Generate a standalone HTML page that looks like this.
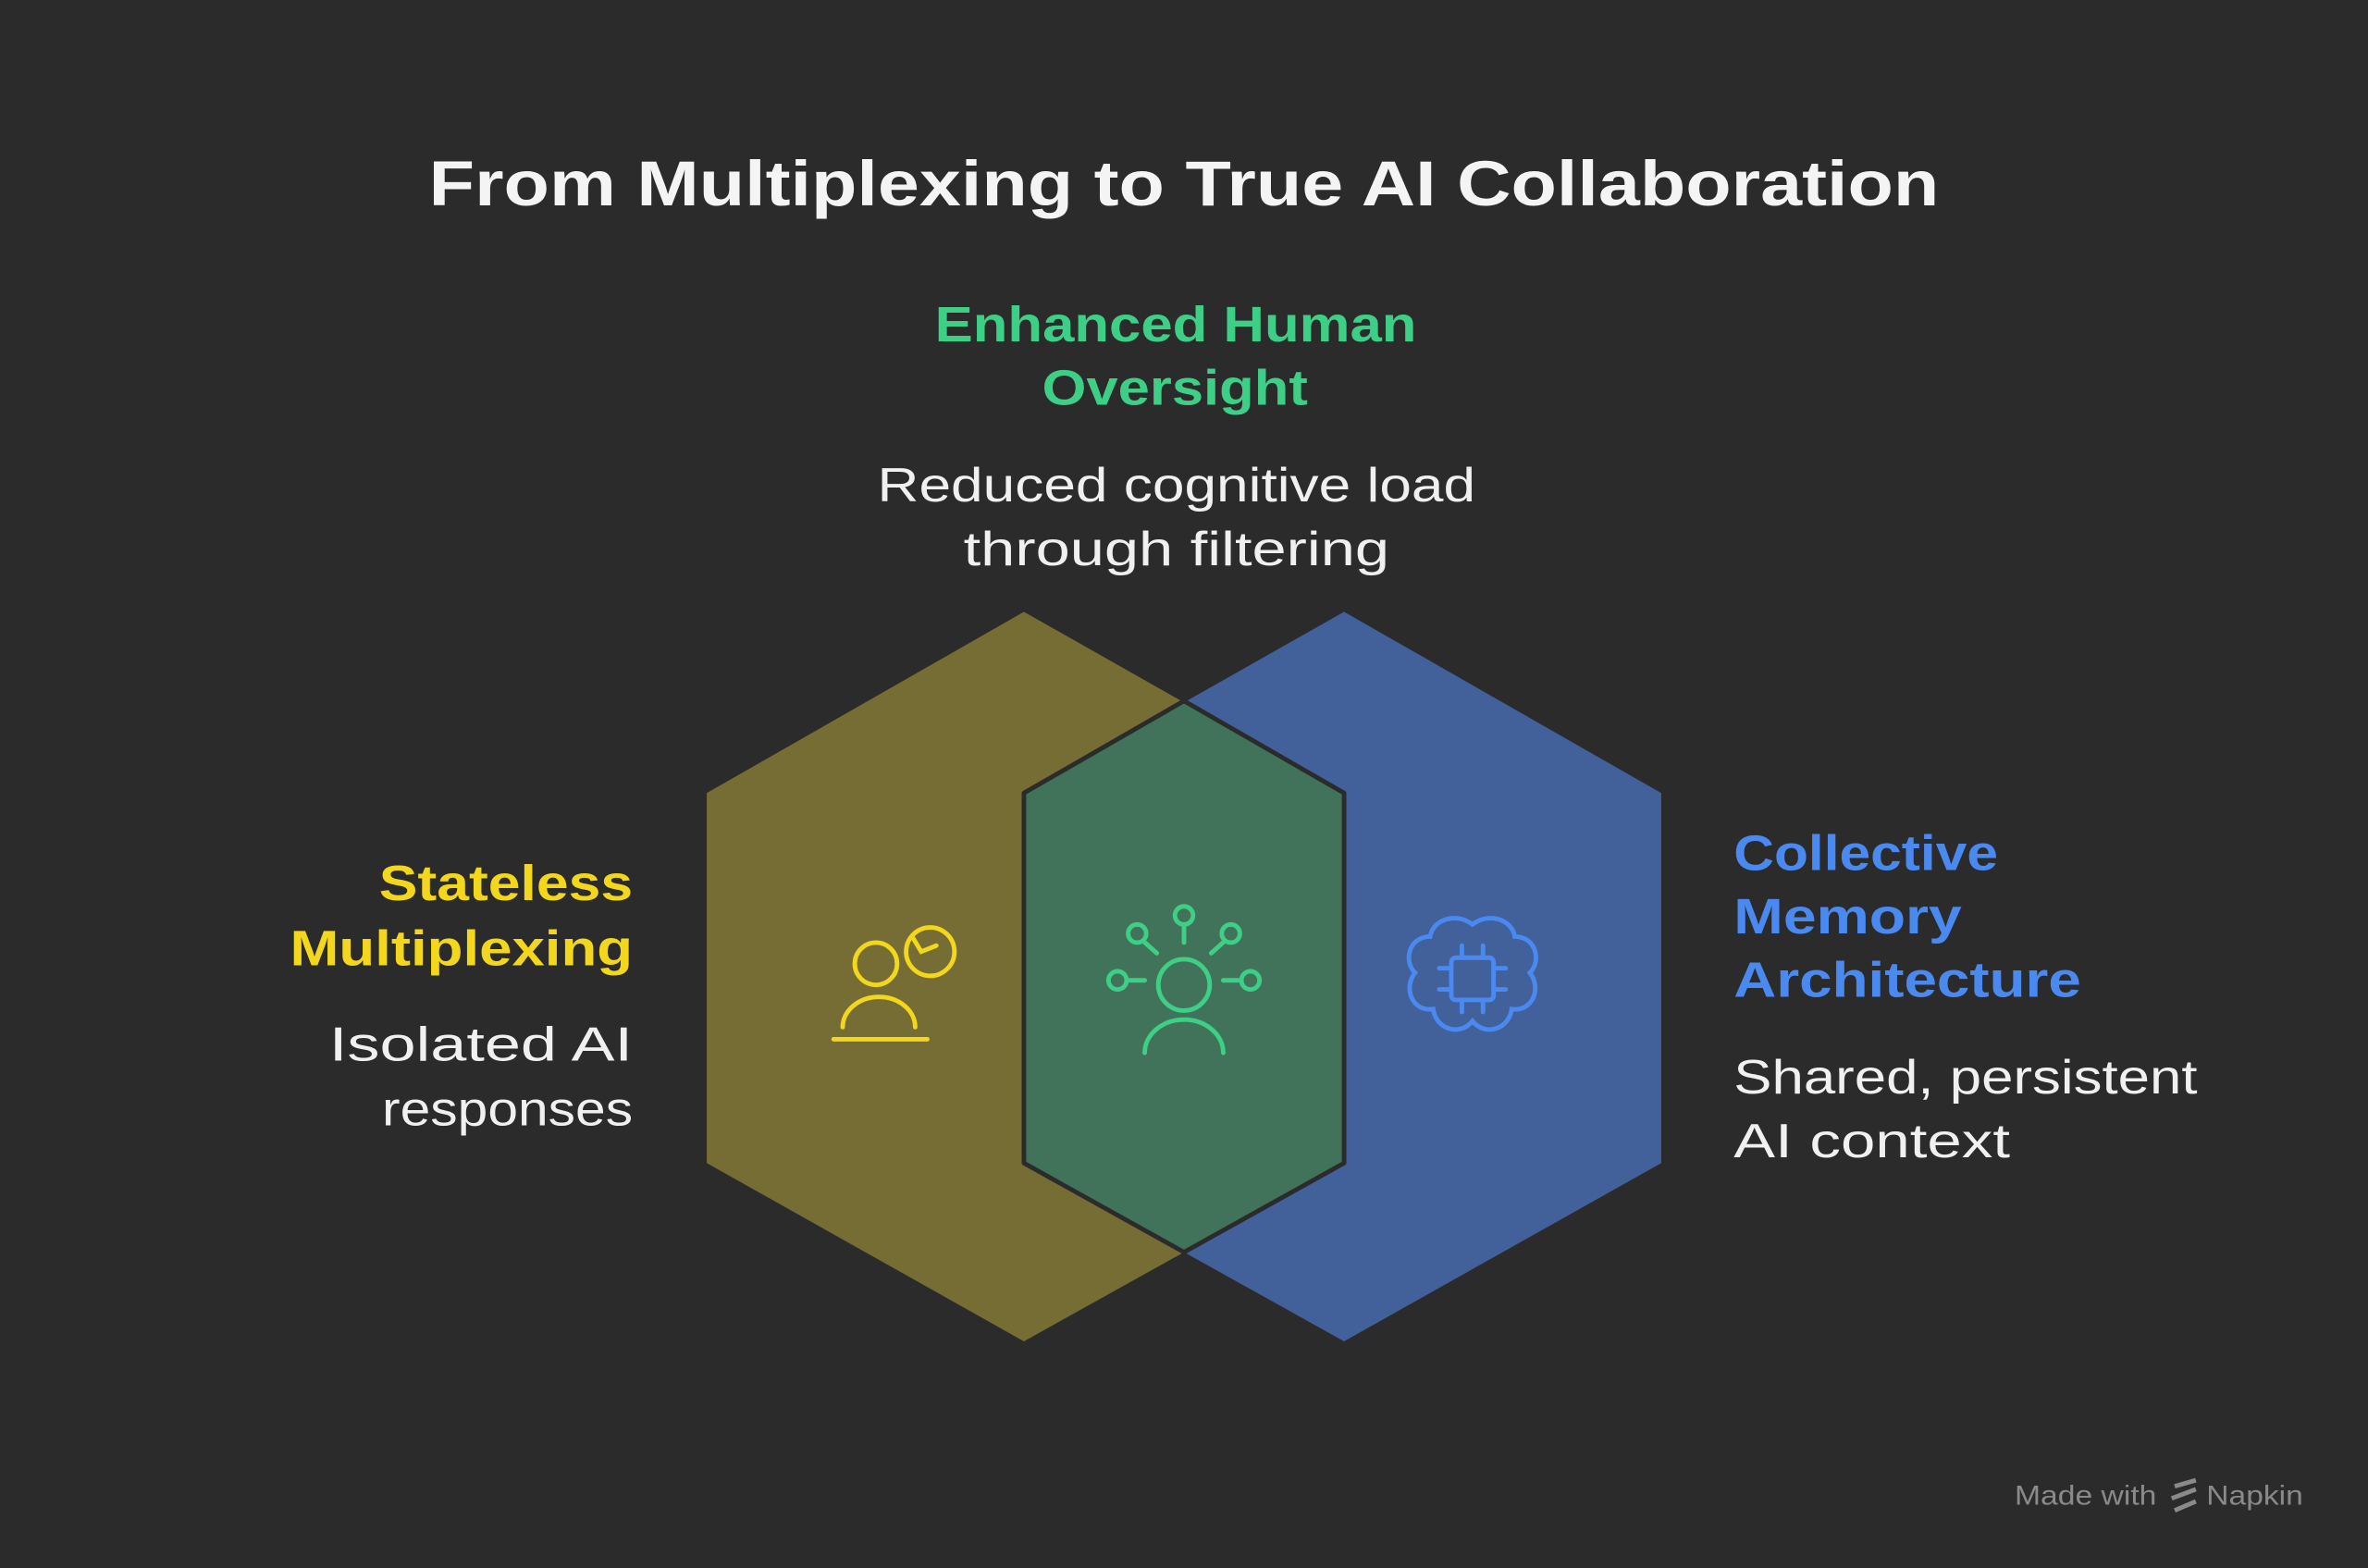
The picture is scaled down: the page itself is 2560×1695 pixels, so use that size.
<!DOCTYPE html>
<html><head><meta charset="utf-8"><style>
html,body{margin:0;padding:0;background:#2b2b2b;}
svg{display:block;}
text{font-family:"Liberation Sans",sans-serif;}
</style></head><body>
<svg width="2560" height="1695" viewBox="0 0 1568 1038" xmlns="http://www.w3.org/2000/svg">
<rect width="1568" height="1038" fill="#2b2b2b"/>
<text x="284" y="136" font-size="42" font-weight="bold" fill="#f4f4f4" textLength="1000" lengthAdjust="spacingAndGlyphs">From Multiplexing to True AI Collaboration</text>

<text x="619" y="226" font-size="33" font-weight="bold" fill="#3ecf86" textLength="319" lengthAdjust="spacingAndGlyphs">Enhanced Human</text>
<text x="690" y="268" font-size="33" font-weight="bold" fill="#3ecf86" textLength="176" lengthAdjust="spacingAndGlyphs">Oversight</text>
<text x="581" y="332" font-size="32" fill="#f0f0f0" textLength="396" lengthAdjust="spacingAndGlyphs">Reduced cognitive load</text>
<text x="638" y="374" font-size="32" fill="#f0f0f0" textLength="282" lengthAdjust="spacingAndGlyphs">through filtering</text>

<text x="251" y="596" font-size="33" font-weight="bold" fill="#f2d71c" textLength="168" lengthAdjust="spacingAndGlyphs">Stateless</text>
<text x="192" y="639" font-size="33" font-weight="bold" fill="#f2d71c" textLength="227" lengthAdjust="spacingAndGlyphs">Multiplexing</text>
<text x="218" y="702" font-size="32" fill="#f0f0f0" textLength="201" lengthAdjust="spacingAndGlyphs">Isolated AI</text>
<text x="253" y="745" font-size="32" fill="#f0f0f0" textLength="166" lengthAdjust="spacingAndGlyphs">responses</text>

<text x="1148" y="576" font-size="33" font-weight="bold" fill="#4a8af0" textLength="175" lengthAdjust="spacingAndGlyphs">Collective</text>
<text x="1148" y="618" font-size="33" font-weight="bold" fill="#4a8af0" textLength="151" lengthAdjust="spacingAndGlyphs">Memory</text>
<text x="1148" y="660" font-size="33" font-weight="bold" fill="#4a8af0" textLength="230" lengthAdjust="spacingAndGlyphs">Architecture</text>
<text x="1148" y="724" font-size="32" fill="#f0f0f0" textLength="307" lengthAdjust="spacingAndGlyphs">Shared, persistent</text>
<text x="1148" y="766" font-size="32" fill="#f0f0f0" textLength="183" lengthAdjust="spacingAndGlyphs">AI context</text>

<polygon points="678,405 890,525 890,770 678,888 468,770 468,525" fill="#756d33"/>
<polygon points="890,405 1100,525 1100,770 890,888 678,770 678,525" fill="#42619a"/>
<polygon points="784,464 890,525 890,770 784,829 678,770 678,525" fill="#41735a" stroke="#2b2b2b" stroke-width="3" stroke-linejoin="round"/>

<g fill="none" stroke="#f2d71c" stroke-width="3" stroke-linecap="round">
<circle cx="580" cy="638" r="14"/>
<path d="M558,680 a24,20 0 0 1 48,0"/>
<line x1="552" y1="688" x2="614" y2="688"/>
<circle cx="616" cy="630" r="16"/>
<path d="M604,620 l6,10 l10,-4"/>
</g>
<g fill="none" stroke="#3ecf86" stroke-width="3" stroke-linecap="round">
<circle cx="784" cy="652" r="17"/>
<path d="M758,697 a26,22 0 0 1 52,0"/>
<circle cx="784" cy="606" r="6"/><line x1="784" y1="612" x2="784" y2="624"/>
<circle cx="753" cy="618" r="6"/><line x1="757" y1="623" x2="766" y2="631"/>
<circle cx="815" cy="618" r="6"/><line x1="811" y1="623" x2="802" y2="631"/>
<circle cx="740" cy="649" r="6"/><line x1="746" y1="649" x2="758" y2="649"/>
<circle cx="828" cy="649" r="6"/><line x1="822" y1="649" x2="810" y2="649"/>
</g>
<g fill="none" stroke="#4a8af0" stroke-width="3" stroke-linecap="round">
<path d="M975,612 c-10,-8 -26,-4 -28,8 c-14,0 -18,16 -10,24 c-8,10 -2,26 12,24 c2,14 18,18 26,8 c8,10 24,6 26,-8 c14,2 20,-14 12,-24 c8,-8 4,-24 -10,-24 c-2,-12 -18,-16 -28,-8 z"/>
<rect x="961" y="634" width="28" height="28" rx="3"/>
<line x1="968" y1="626" x2="968" y2="634"/><line x1="982" y1="626" x2="982" y2="634"/>
<line x1="968" y1="662" x2="968" y2="670"/><line x1="982" y1="662" x2="982" y2="670"/>
<line x1="953" y1="641" x2="961" y2="641"/><line x1="953" y1="655" x2="961" y2="655"/>
<line x1="989" y1="641" x2="997" y2="641"/><line x1="989" y1="655" x2="997" y2="655"/>
</g>

<text x="1334" y="996" font-size="18" fill="#8a8a8a" textLength="94" lengthAdjust="spacingAndGlyphs">Made with</text>
<path d="M1440,984 l14,-4 M1438,992 l16,-6 M1440,1000 l14,-6" stroke="#8a8a8a" stroke-width="3"/>
<text x="1461" y="996" font-size="18" fill="#8a8a8a" textLength="64" lengthAdjust="spacingAndGlyphs">Napkin</text>
</svg>
</body></html>
